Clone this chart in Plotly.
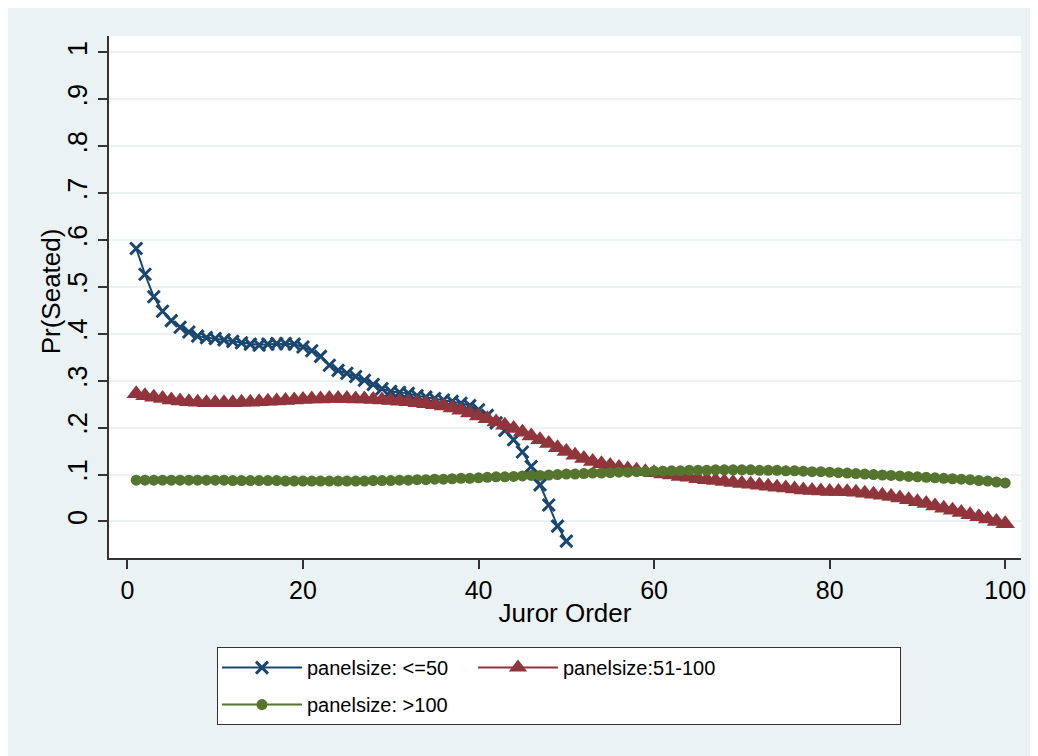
import plotly.graph_objects as go

# ---------------- data ----------------
juror_small = list(range(1, 51))
pr_small = [0.582, 0.527, 0.479, 0.448, 0.428, 0.414, 0.404, 0.395, 0.392, 0.390,
            0.387, 0.384, 0.381, 0.378, 0.376, 0.378, 0.379, 0.379, 0.378, 0.372,
            0.364, 0.352, 0.333, 0.322, 0.316, 0.309, 0.301, 0.292, 0.283, 0.277,
            0.275, 0.273, 0.268, 0.265, 0.262, 0.259, 0.256, 0.252, 0.247, 0.238,
            0.226, 0.210, 0.194, 0.174, 0.148, 0.117, 0.078, 0.035, -0.010, -0.042]

juror_large = list(range(1, 101))
pr_mid = [0.272, 0.268, 0.265, 0.262, 0.259, 0.257, 0.255, 0.254, 0.253, 0.253,
          0.253, 0.253, 0.254, 0.254, 0.255, 0.256, 0.257, 0.258, 0.259, 0.260,
          0.261, 0.261, 0.262, 0.262, 0.262, 0.261, 0.261, 0.260, 0.259, 0.258,
          0.256, 0.255, 0.253, 0.251, 0.249, 0.246, 0.242, 0.237, 0.231, 0.225,
          0.219, 0.212, 0.205, 0.198, 0.190, 0.182, 0.174, 0.166, 0.157, 0.149,
          0.141, 0.134, 0.128, 0.123, 0.119, 0.115, 0.112, 0.109, 0.106, 0.104,
          0.101, 0.099, 0.096, 0.094, 0.091, 0.089, 0.087, 0.085, 0.083, 0.081,
          0.079, 0.077, 0.075, 0.073, 0.071, 0.069, 0.067, 0.066, 0.065, 0.064,
          0.064, 0.063, 0.062, 0.060, 0.058, 0.056, 0.053, 0.050, 0.046, 0.042,
          0.038, 0.033, 0.028, 0.024, 0.019, 0.014, 0.010, 0.005, 0.000, -0.005]
pr_big = [0.088, 0.088, 0.088, 0.088, 0.088, 0.088, 0.088, 0.088, 0.088, 0.088,
          0.088, 0.087, 0.087, 0.087, 0.087, 0.087, 0.087, 0.086, 0.086, 0.086,
          0.086, 0.086, 0.086, 0.086, 0.086, 0.086, 0.086, 0.087, 0.087, 0.087,
          0.088, 0.088, 0.089, 0.089, 0.090, 0.090, 0.091, 0.092, 0.092, 0.093,
          0.094, 0.095, 0.095, 0.096, 0.097, 0.098, 0.098, 0.099, 0.100, 0.101,
          0.101, 0.102, 0.103, 0.103, 0.104, 0.105, 0.105, 0.106, 0.106, 0.107,
          0.107, 0.108, 0.108, 0.109, 0.109, 0.109, 0.110, 0.110, 0.110, 0.110,
          0.110, 0.109, 0.109, 0.109, 0.108, 0.108, 0.107, 0.106, 0.106, 0.105,
          0.104, 0.103, 0.102, 0.101, 0.100, 0.099, 0.098, 0.097, 0.096, 0.095,
          0.094, 0.093, 0.092, 0.091, 0.090, 0.089, 0.087, 0.086, 0.084, 0.082]

series_names = ["panelsize: <=50", "panelsize:51-100", "panelsize: >100"]
y_tickvals = [0, 0.1, 0.2, 0.3, 0.4, 0.5, 0.6, 0.7, 0.8, 0.9, 1.0]
y_ticktext = ["0", ".1", ".2", ".3", ".4", ".5", ".6", ".7", ".8", ".9", "1"]
x_tickvals = [0, 20, 40, 60, 80, 100]
x_title = "Juror Order"
y_title = "Pr(Seated)"

# ---------------- styling ----------------
NAVY = "#1A476F"
MAROON = "#90353B"
FOREST = "#55752F"
BG = "#EAF2F3"
AXIS = "#333333"
FONT = "Liberation Sans, Arial, sans-serif"

fig = go.Figure()
fig.add_trace(go.Scatter(
    x=juror_small, y=pr_small, name=series_names[0], mode="lines+markers",
    line=dict(color=NAVY, width=2),
    marker=dict(symbol="x-thin", size=12, color=NAVY, line=dict(color=NAVY, width=3)),
    legendgroup="a", legendwidth=161))
fig.add_trace(go.Scatter(
    x=juror_large, y=pr_mid, name=series_names[1], mode="lines+markers",
    line=dict(color=MAROON, width=2),
    marker=dict(symbol="triangle-up", size=17, color=MAROON),
    legendgroup="b", legendwidth=332))
fig.add_trace(go.Scatter(
    x=juror_large, y=pr_big, name=series_names[2], mode="lines+markers",
    line=dict(color=FOREST, width=2),
    marker=dict(symbol="circle", size=11, color=FOREST),
    legendgroup="c", legendwidth=161))

fig.update_layout(
    width=1030, height=748,
    margin=dict(l=101, r=17, t=28, b=198, autoexpand=False),
    paper_bgcolor=BG, plot_bgcolor="white",
    font=dict(family=FONT, color="black"),
    showlegend=True,
    legend=dict(
        orientation="h", traceorder="grouped", tracegroupgap=8,
        x=0.1184, xanchor="left", y=-0.1707, yanchor="top",
        bgcolor="white", bordercolor=AXIS, borderwidth=1,
        font=dict(size=20, family=FONT, color="black"),
        itemwidth=80,
    ),
    xaxis=dict(
        range=[-2.1, 101.8], tickvals=x_tickvals, showgrid=False, zeroline=False,
        ticks="outside", ticklen=9, tickwidth=1.5, tickcolor=AXIS,
        showline=True, linecolor=AXIS, linewidth=1.5,
        tickfont=dict(size=25, family=FONT, color="black"),
        title=dict(text=x_title, font=dict(size=26, family=FONT, color="black"), standoff=1),
    ),
    yaxis=dict(
        range=[-0.078, 1.035], tickvals=y_tickvals, ticktext=y_ticktext, tickangle=-90,
        showgrid=True, gridcolor=BG, gridwidth=2, zeroline=False,
        ticks="outside", ticklen=9, tickwidth=1.5, tickcolor=AXIS,
        showline=True, linecolor=AXIS, linewidth=1.5,
        tickfont=dict(size=27, family=FONT, color="black"),
    ),
    annotations=[dict(
        text=y_title, textangle=-90, xref="paper", yref="paper",
        x=-0.0641, y=0.51, xanchor="center", yanchor="middle", showarrow=False,
        font=dict(size=26, family=FONT, color="black"),
    )],
)

fig.write_html("out.html")
